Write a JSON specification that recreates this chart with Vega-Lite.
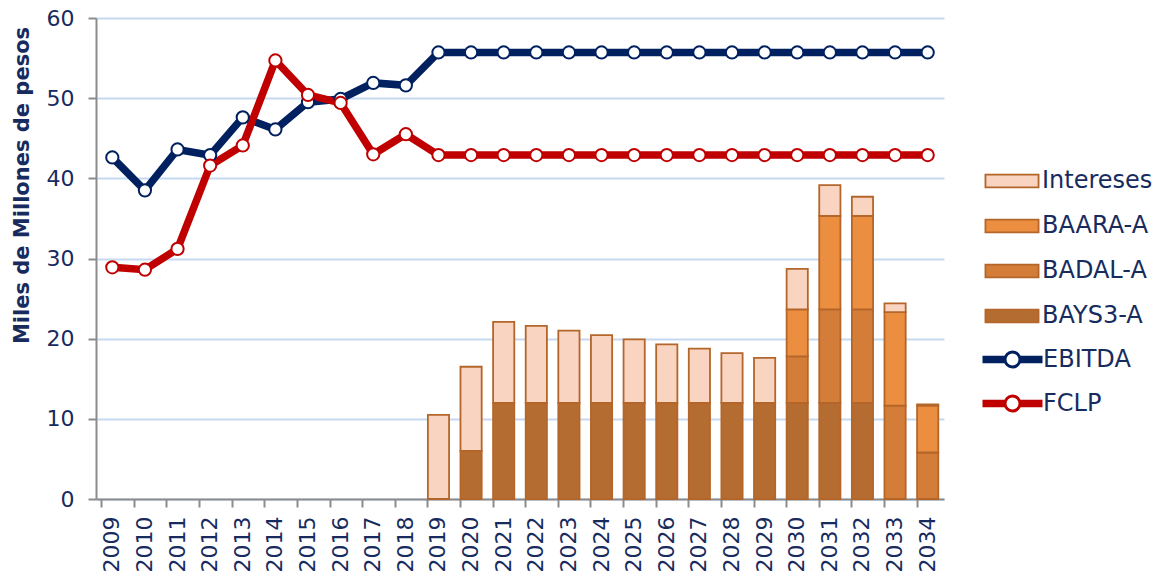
{
  "$schema": "https://vega.github.io/schema/vega-lite/v6.json",
  "width": 848,
  "height": 481,
  "autosize": {"type": "none"},
  "padding": {"left": 96, "top": 18, "right": 218, "bottom": 78},
  "background": "white",
  "config": {
    "font": "DejaVu Sans",
    "view": {"stroke": null},
    "axis": {
      "domainColor": "#8C8C8C",
      "domainWidth": 2,
      "tickColor": "#8C8C8C",
      "tickWidth": 2,
      "tickSize": 8,
      "labelColor": "#172B5E",
      "labelFont": "DejaVu Sans",
      "labelFontSize": 22,
      "titleColor": "#172B5E"
    },
    "legend": {
      "labelColor": "#172B5E",
      "labelFont": "DejaVu Sans",
      "labelFontSize": 24
    }
  },
  "datasets": {
    "barras": [
      {"anio": "2019", "BAYS3-A": 0, "BADAL-A": 0, "BAARA-A": 0, "Intereses": 10.5},
      {"anio": "2020", "BAYS3-A": 6.0, "BADAL-A": 0, "BAARA-A": 0, "Intereses": 10.5},
      {"anio": "2021", "BAYS3-A": 12.0, "BADAL-A": 0, "BAARA-A": 0, "Intereses": 10.1},
      {"anio": "2022", "BAYS3-A": 12.0, "BADAL-A": 0, "BAARA-A": 0, "Intereses": 9.6},
      {"anio": "2023", "BAYS3-A": 12.0, "BADAL-A": 0, "BAARA-A": 0, "Intereses": 9.0},
      {"anio": "2024", "BAYS3-A": 12.0, "BADAL-A": 0, "BAARA-A": 0, "Intereses": 8.45},
      {"anio": "2025", "BAYS3-A": 12.0, "BADAL-A": 0, "BAARA-A": 0, "Intereses": 7.9},
      {"anio": "2026", "BAYS3-A": 12.0, "BADAL-A": 0, "BAARA-A": 0, "Intereses": 7.3},
      {"anio": "2027", "BAYS3-A": 12.0, "BADAL-A": 0, "BAARA-A": 0, "Intereses": 6.75},
      {"anio": "2028", "BAYS3-A": 12.0, "BADAL-A": 0, "BAARA-A": 0, "Intereses": 6.2},
      {"anio": "2029", "BAYS3-A": 12.0, "BADAL-A": 0, "BAARA-A": 0, "Intereses": 5.6},
      {"anio": "2030", "BAYS3-A": 12.0, "BADAL-A": 5.8, "BAARA-A": 5.85, "Intereses": 5.05},
      {"anio": "2031", "BAYS3-A": 12.0, "BADAL-A": 11.65, "BAARA-A": 11.65, "Intereses": 3.85},
      {"anio": "2032", "BAYS3-A": 12.0, "BADAL-A": 11.65, "BAARA-A": 11.65, "Intereses": 2.4},
      {"anio": "2033", "BAYS3-A": 0, "BADAL-A": 11.65, "BAARA-A": 11.65, "Intereses": 1.1},
      {"anio": "2034", "BAYS3-A": 0, "BADAL-A": 5.8, "BAARA-A": 5.85, "Intereses": 0.15}
    ],
    "lineas": [
      {"anio": "2009", "EBITDA": 42.6, "FCLP": 28.9},
      {"anio": "2010", "EBITDA": 38.5, "FCLP": 28.6},
      {"anio": "2011", "EBITDA": 43.6, "FCLP": 31.2},
      {"anio": "2012", "EBITDA": 42.9, "FCLP": 41.6},
      {"anio": "2013", "EBITDA": 47.6, "FCLP": 44.1},
      {"anio": "2014", "EBITDA": 46.1, "FCLP": 54.7},
      {"anio": "2015", "EBITDA": 49.5, "FCLP": 50.4},
      {"anio": "2016", "EBITDA": 49.9, "FCLP": 49.4},
      {"anio": "2017", "EBITDA": 51.9, "FCLP": 43.0},
      {"anio": "2018", "EBITDA": 51.6, "FCLP": 45.5},
      {"anio": "2019", "EBITDA": 55.7, "FCLP": 42.9},
      {"anio": "2020", "EBITDA": 55.7, "FCLP": 42.9},
      {"anio": "2021", "EBITDA": 55.7, "FCLP": 42.9},
      {"anio": "2022", "EBITDA": 55.7, "FCLP": 42.9},
      {"anio": "2023", "EBITDA": 55.7, "FCLP": 42.9},
      {"anio": "2024", "EBITDA": 55.7, "FCLP": 42.9},
      {"anio": "2025", "EBITDA": 55.7, "FCLP": 42.9},
      {"anio": "2026", "EBITDA": 55.7, "FCLP": 42.9},
      {"anio": "2027", "EBITDA": 55.7, "FCLP": 42.9},
      {"anio": "2028", "EBITDA": 55.7, "FCLP": 42.9},
      {"anio": "2029", "EBITDA": 55.7, "FCLP": 42.9},
      {"anio": "2030", "EBITDA": 55.7, "FCLP": 42.9},
      {"anio": "2031", "EBITDA": 55.7, "FCLP": 42.9},
      {"anio": "2032", "EBITDA": 55.7, "FCLP": 42.9},
      {"anio": "2033", "EBITDA": 55.7, "FCLP": 42.9},
      {"anio": "2034", "EBITDA": 55.7, "FCLP": 42.9}
    ]
  },
  "encoding": {
    "x": {
      "field": "anio",
      "type": "ordinal",
      "scale": {"domain": ["2009","2010","2011","2012","2013","2014","2015","2016","2017","2018","2019","2020","2021","2022","2023","2024","2025","2026","2027","2028","2029","2030","2031","2032","2033","2034"], "paddingInner": 0.35, "paddingOuter": 0.175},
      "axis": {"title": null, "labelAngle": -90, "labelPadding": 9, "bandPosition": 0, "grid": false}
    },
    "y": {
      "field": "valor",
      "type": "quantitative",
      "scale": {"domain": [0, 60], "nice": false},
      "axis": {
        "values": [0, 10, 20, 30, 40, 50, 60],
        "grid": true,
        "gridColor": "#C6D9F1",
        "gridWidth": 2,
        "labelPadding": 14,
        "title": "Miles de Millones de pesos",
        "titleFontSize": 21,
        "titleFontWeight": "bold",
        "titleAlign": "center",
        "titleBaseline": "bottom",
        "titleX": -64,
        "titleY": 167
      }
    }
  },
  "layer": [
    {
      "data": {"name": "barras"},
      "transform": [
        {"fold": ["BAYS3-A", "BADAL-A", "BAARA-A", "Intereses"], "as": ["serie", "valor"]},
        {"calculate": "indexof(['BAYS3-A','BADAL-A','BAARA-A','Intereses'], datum.serie)", "as": "orden"}
      ],
      "mark": {"type": "bar", "stroke": "#B4662A", "strokeWidth": 1.8},
      "encoding": {
        "y": {"field": "valor", "type": "quantitative", "stack": "zero"},
        "order": {"field": "orden", "type": "quantitative", "sort": "ascending"},
        "fill": {
          "field": "serie",
          "type": "nominal",
          "scale": {"domain": ["Intereses", "BAARA-A", "BADAL-A", "BAYS3-A"], "range": ["#F9D4C1", "#EB8E40", "#D47D38", "#B56C30"]},
          "legend": {
            "title": null,
            "orient": "none",
            "legendX": 900,
            "legendY": 147,
            "symbolType": "M-1.77,-0.43H1.77V0.43H-1.77Z",
            "symbolSize": 900,
            "symbolStrokeColor": "#B4662A",
            "symbolStrokeWidth": 1.8,
            "symbolOpacity": 1,
            "labelOffset": 14,
            "rowPadding": 17
          }
        }
      }
    },
    {
      "data": {"name": "lineas"},
      "transform": [
        {"fold": ["EBITDA", "FCLP"], "as": ["serie", "valor"]}
      ],
      "encoding": {
        "stroke": {
          "field": "serie",
          "type": "nominal",
          "scale": {"domain": ["EBITDA", "FCLP"], "range": ["#002060", "#C00000"]},
          "legend": {
            "title": null,
            "orient": "none",
            "legendX": 900,
            "legendY": 325,
            "symbolType": "M-2,-0.15H-0.5M-2,-0.05H-0.5M-2,0.05H-0.5M-2,0.15H-0.5M0.5,-0.15H2M0.5,-0.05H2M0.5,0.05H2M0.5,0.15H2M0.5,0A0.5,0.5,0,1,1,-0.5,0A0.5,0.5,0,1,1,0.5,0Z",
            "symbolSize": 900,
            "symbolFillColor": "white",
            "symbolStrokeWidth": 3,
            "symbolOpacity": 1,
            "labelOffset": 14,
            "rowPadding": 14
          }
        }
      },
      "layer": [
        {"mark": {"type": "line", "strokeWidth": 7.5}},
        {"mark": {"type": "point", "filled": true, "fill": "white", "size": 150, "strokeWidth": 2, "opacity": 1}}
      ]
    }
  ]
}
